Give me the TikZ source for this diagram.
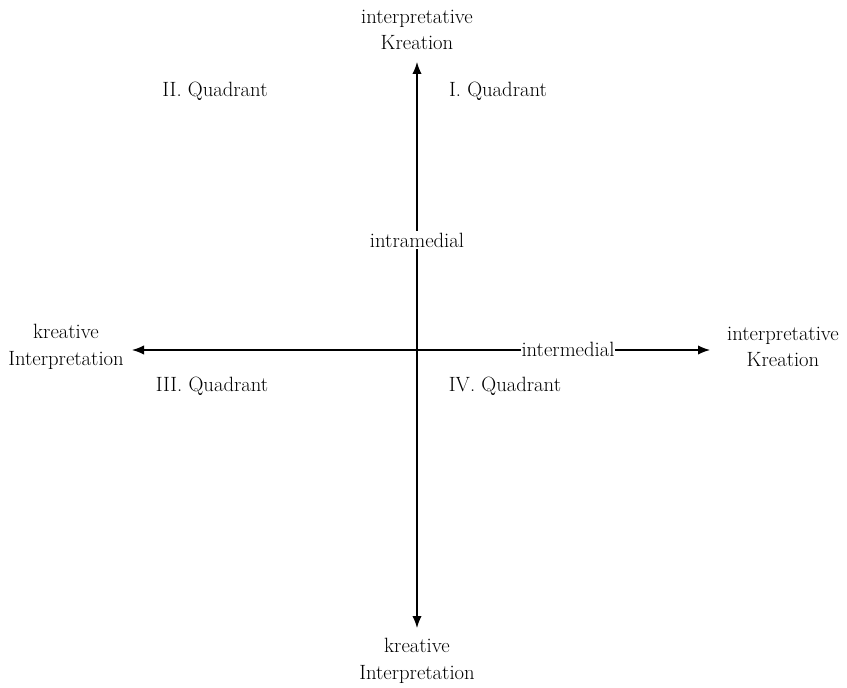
\documentclass[tikz,border=0pt]{standalone}
\usetikzlibrary{arrows.meta}
\tikzset{
    lbl/.style={align=center, font=\fontsize{15.5}{20}\selectfont, inner sep=1pt},
    axis/.style={{Latex[length=9pt,width=7pt]}-{Latex[length=9pt,width=7pt]}, line width=0.9pt},
}
\begin{document}
\begin{tikzpicture}[x=0.75pt, y=-0.75pt]
        \useasboundingbox (0,0) rectangle (847,688);
        \node[lbl] at (417,30) (top) {interpretative\\Kreation};
        \node[lbl] at (417,661) (bottom) {kreative\\Interpretation};
        \node[lbl] at (66,347) (left) {kreative\\Interpretation};
        \node[lbl] at (783,347) (right) {interpretative\\Kreation};

        \coordinate (toptip) at (417,62);
        \coordinate (bottomtip) at (417,628);
        \coordinate (lefttip) at (132,350);
        \coordinate (righttip) at (710,350);

        \draw[axis] (bottomtip) -- (toptip);
        \draw[axis] (lefttip) -- (righttip);

        \node[lbl, fill=white] at (417,240) (intra) {intramedial};
        \node[lbl, fill=white, inner sep=0.5pt] at (568,349) (inter) {intermedial};

        \node[lbl] at (215,91) (q2) {II. Quadrant};
        \node[lbl] at (498,91) (q1) {I. Quadrant};
        \node[lbl] at (212,386) (q3) {III. Quadrant};
        \node[lbl] at (505,386) (q4) {IV. Quadrant};
    \end{tikzpicture}
\end{document}
